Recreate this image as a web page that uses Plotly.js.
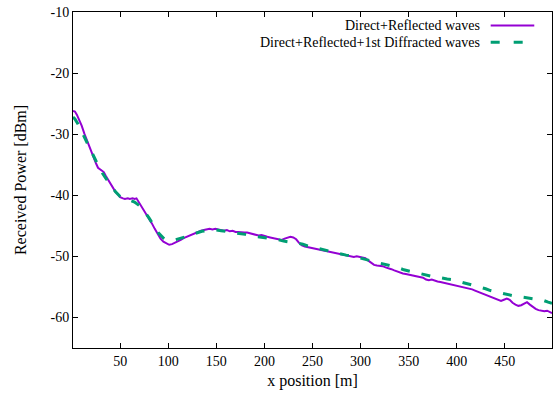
<!DOCTYPE html>
<html>
<head>
<meta charset="utf-8">
<script src="https://cdn.plot.ly/plotly-3.0.1.min.js"></script>
<style>html,body{margin:0;padding:0;background:#fff;}#chart{width:555px;height:398px;}</style>
</head>
<body>
<div id="chart"></div>
<script>
// Direct+Reflected waves (x in m, received power in dBm)
const xDR = [1,3,5,8,10,13,15,17,20,23,25,27,30,33,35,38,40,43,45,48,50,53,55,58,60,63,65,67,69,71,74,77,80,83,86,89,92,95,98,101,104,107,110,113,116,119,122,125,128,131,134,137,140,143,146,149,152,155,158,161,164,167,170,173,176,179,182,185,188,191,194,197,200,203,206,209,212,215,218,221,224,227,230,233,236,239,242,245,248,251,254,257,260,263,266,269,272,275,278,281,284,287,290,293,296,299,302,305,308,311,314,317,320,323,326,329,332,335,338,341,344,347,350,353,356,359,362,365,368,371,374,377,380,383,386,389,392,395,398,401,404,407,410,413,416,419,422,425,428,431,434,437,440,443,446,449,452,455,458,461,464,467,470,473,476,479,482,485,488,491,494,497,499];
const yDR = [-26.2,-26.3,-26.8,-27.8,-28.6,-30.0,-30.8,-31.9,-33.0,-34.2,-34.8,-35.5,-35.9,-36.2,-36.8,-37.6,-38.1,-38.8,-39.4,-39.9,-40.3,-40.5,-40.6,-40.5,-40.6,-40.5,-40.6,-40.5,-41.0,-41.6,-42.3,-43.0,-43.8,-44.6,-45.5,-46.4,-47.1,-47.6,-47.9,-48.1,-48.0,-47.8,-47.5,-47.3,-47.0,-46.8,-46.5,-46.3,-46.1,-45.9,-45.8,-45.7,-45.6,-45.5,-45.6,-45.5,-45.6,-45.7,-45.8,-45.7,-45.9,-45.8,-46.0,-46.0,-46.1,-46.1,-46.1,-46.2,-46.3,-46.5,-46.6,-46.5,-46.7,-46.8,-46.9,-47.0,-47.1,-47.3,-47.3,-47.1,-47.0,-46.8,-46.9,-47.2,-47.8,-48.2,-48.4,-48.5,-48.7,-48.8,-48.9,-49.0,-49.1,-49.2,-49.3,-49.3,-49.5,-49.6,-49.7,-49.7,-49.8,-49.9,-50.0,-50.1,-50.0,-50.1,-50.1,-50.3,-50.7,-51.1,-51.4,-51.5,-51.5,-51.6,-51.8,-51.9,-52.1,-52.3,-52.5,-52.6,-52.8,-52.9,-53.0,-53.0,-53.1,-53.3,-53.4,-53.5,-53.8,-53.9,-53.8,-54.0,-54.1,-54.2,-54.3,-54.4,-54.5,-54.6,-54.7,-54.8,-54.9,-55.0,-55.1,-55.3,-55.4,-55.6,-55.8,-56.0,-56.2,-56.4,-56.6,-56.8,-57.0,-57.2,-57.3,-57.1,-56.9,-57.1,-57.6,-57.9,-58.1,-58.0,-57.7,-57.5,-57.9,-58.3,-58.6,-58.8,-58.9,-59.0,-58.9,-59.2,-59.3];

// Direct+Reflected+1st Diffracted waves
const xDRD = [1,3,6,10,15,20,25,30,35,40,45,50,55,60,65,70,75,80,85,90,95,100,105,110,115,120,125,130,135,140,145,150,155,160,165,170,175,180,185,190,195,200,205,210,215,220,225,230,235,240,245,250,255,260,265,270,275,280,285,290,295,300,305,310,315,320,325,330,335,340,345,350,355,360,365,370,375,380,385,390,395,400,405,410,415,420,425,430,435,440,445,450,455,460,465,470,475,480,485,490,495,499];
const yDRD = [-27.2,-27.5,-28.3,-29.6,-31.3,-33.0,-34.6,-36.0,-37.2,-38.3,-39.4,-40.2,-40.6,-40.8,-41.1,-41.7,-42.6,-43.7,-45.0,-46.2,-47.0,-47.4,-47.4,-47.2,-47.0,-46.7,-46.4,-46.1,-45.9,-45.8,-45.7,-45.7,-45.8,-45.9,-46.0,-46.1,-46.3,-46.4,-46.6,-46.7,-46.9,-47.0,-47.1,-47.2,-47.3,-47.5,-47.6,-47.7,-47.9,-48.0,-48.3,-48.5,-48.7,-48.9,-49.1,-49.2,-49.4,-49.6,-49.8,-49.9,-50.1,-50.2,-50.4,-50.6,-50.8,-51.0,-51.2,-51.4,-51.7,-51.9,-52.2,-52.4,-52.6,-52.8,-53.0,-53.1,-53.3,-53.4,-53.6,-53.7,-53.8,-54.0,-54.2,-54.4,-54.6,-54.8,-55.0,-55.3,-55.6,-55.8,-56.0,-56.2,-56.4,-56.5,-56.6,-56.7,-56.8,-56.9,-57.0,-57.2,-57.5,-57.7];

const seriesNames = ["Direct+Reflected waves", "Direct+Reflected+1st Diffracted waves"];
const xTicks = [50,100,150,200,250,300,350,400,450];
const yTicks = [-10,-20,-30,-40,-50,-60];

const purple = "#9400d3", green = "#009e73";
const FONT = "Liberation Serif, Times New Roman, serif";

const traces = [
  {x: xDR, y: yDR, type: "scatter", mode: "lines", name: seriesNames[0],
   line: {color: purple, width: 2}},
  {x: xDRD, y: yDRD, type: "scatter", mode: "lines", name: seriesNames[1],
   line: {color: green, width: 3, dash: "9px,12px"}}
];

const axisCommon = {
  showgrid: false, zeroline: false, showline: true, linecolor: "#000", linewidth: 1,
  mirror: "allticks", ticks: "inside", ticklen: 5, tickcolor: "#000", tickwidth: 1,
  tickfont: {family: FONT, size: 14, color: "#000"}
};

const layout = {
  width: 555, height: 398,
  margin: {l: 73, r: 3, t: 12, b: 50},
  paper_bgcolor: "#fff", plot_bgcolor: "#fff",
  font: {family: FONT, size: 14, color: "#000"},
  showlegend: false,
  xaxis: Object.assign({}, axisCommon, {
    range: [1, 499], tickvals: xTicks, ticktext: xTicks.map(String),
    title: {text: "x position [m]", font: {family: FONT, size: 16}, standoff: 7}
  }),
  yaxis: Object.assign({}, axisCommon, {
    range: [-65, -10], tickvals: yTicks, ticktext: yTicks.map(String),
    title: {text: "Received Power [dBm]", font: {family: FONT, size: 16}, standoff: 19}
  }),
  annotations: [
    {xref: "paper", yref: "paper", x: 0.853, y: 0.96, xanchor: "right", yanchor: "middle",
     text: seriesNames[0], showarrow: false, font: {family: FONT, size: 14}},
    {xref: "paper", yref: "paper", x: 0.853, y: 0.91, xanchor: "right", yanchor: "middle",
     text: seriesNames[1], showarrow: false, font: {family: FONT, size: 14}}
  ],
  shapes: [
    {type: "line", xref: "paper", yref: "paper", x0: 0.872, x1: 0.963, y0: 0.96, y1: 0.96,
     line: {color: purple, width: 2}},
    {type: "line", xref: "paper", yref: "paper", x0: 0.872, x1: 0.963, y0: 0.91, y1: 0.91,
     line: {color: green, width: 3, dash: "9px,14px"}}
  ]
};

Plotly.newPlot("chart", traces, layout, {displayModeBar: false, staticPlot: true});
</script>
</body>
</html>
